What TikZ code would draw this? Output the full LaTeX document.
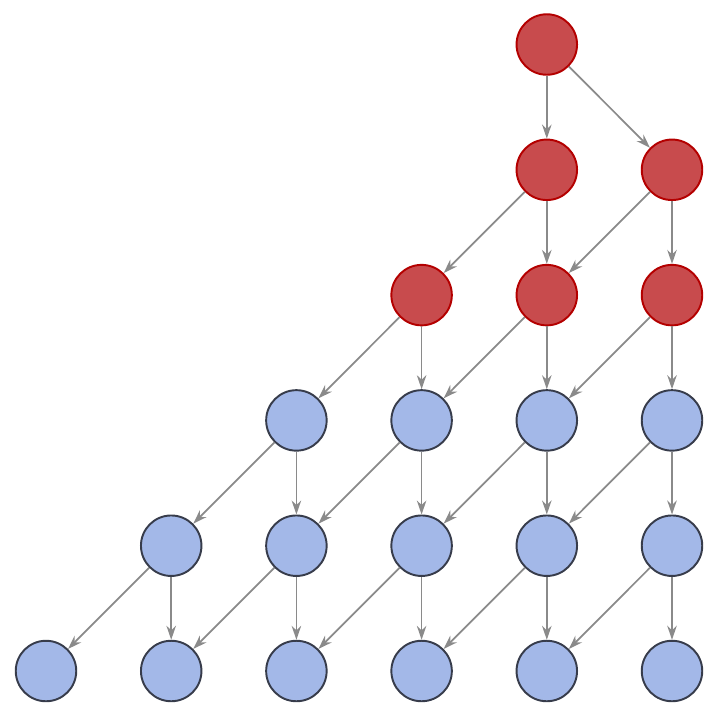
\documentclass[tikz,border=0pt]{standalone}
\usetikzlibrary{arrows.meta}

\definecolor{redfill}{RGB}{200,75,77}
\definecolor{reddraw}{RGB}{180,0,0}
\definecolor{bluefill}{RGB}{163,184,232}
\definecolor{bluedraw}{RGB}{55,60,75}
\definecolor{edgegray}{RGB}{138,138,138}

\begin{document}
\begin{tikzpicture}[x=0.02cm, y=-0.02cm,
		vertex/.style={circle, minimum size=1.21cm, inner sep=0pt, line width=1.1pt},
		redvertex/.style={vertex, draw=reddraw, fill=redfill},
		bluevertex/.style={vertex, draw=bluedraw, fill=bluefill},
		edge/.style={draw=edgegray, line width=1pt, -{Stealth[length=2.8mm,width=1.9mm]}}]
		
		\useasboundingbox (0,0) rectangle (720,718);
		
		% top vertex
		\node[redvertex] (v-0-4) at ({46+125.2*4},44.5) {};
		
		% red rows
		\foreach \r in {1,2}{
			\pgfmathtruncatemacro\first{5-\r}
			\foreach \c in {\first,...,5}
				\node[redvertex] (v-\r-\c) at ({46+125.2*\c},{44.5+125.3*\r}) {};
		}
		
		% blue rows
		\foreach \r in {3,4,5}{
			\pgfmathtruncatemacro\first{5-\r}
			\foreach \c in {\first,...,5}
				\node[bluevertex] (v-\r-\c) at ({46+125.2*\c},{44.5+125.3*\r}) {};
		}
		
		% edges
		\draw[edge] (v-0-4) -- (v-1-4);
		\draw[edge] (v-0-4) -- (v-1-5);
		\foreach \r in {1,...,4}{
			\pgfmathtruncatemacro\first{5-\r}
			\pgfmathtruncatemacro\next{\r+1}
			\foreach \c in {\first,...,5}{
				\pgfmathtruncatemacro\left{\c-1}
				\draw[edge] (v-\r-\c) -- (v-\next-\c);
				\draw[edge] (v-\r-\c) -- (v-\next-\left);
			}
		}
	
	\end{tikzpicture}
\end{document}
